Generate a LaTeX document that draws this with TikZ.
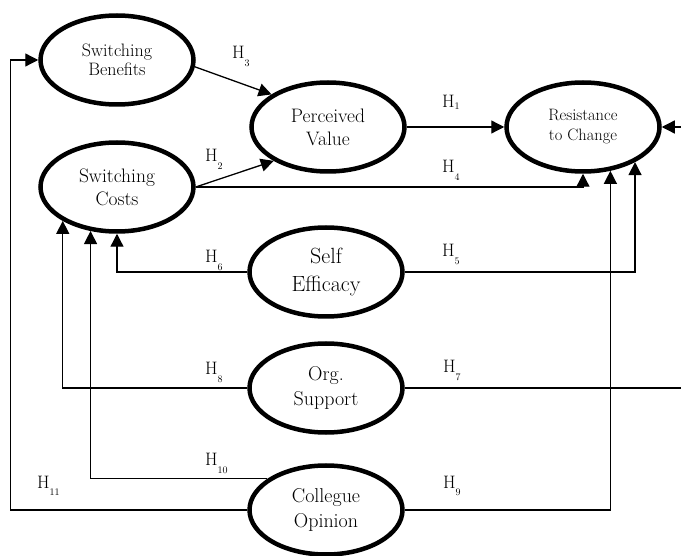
\documentclass[tikz,border=0pt]{standalone}
\usepackage{fontspec}
\setmainfont{Latin Modern Roman}
\usetikzlibrary{shapes.geometric,arrows.meta}
\newcommand\hypl[2][-8pt]{H\raisebox{#1}{\fontsize{10}{10}\selectfont #2}}
\begin{document}
\begin{tikzpicture}[x=1pt,y=-1pt,
  latent/.style={ellipse,draw,line width=4.5pt,minimum width=153pt,minimum height=89pt,inner sep=0pt,align=center},
  arr/.style={line width=1.3pt,-{Triangle[length=13pt,width=13pt]}},
  ln/.style={line width=1.3pt},
  hyp/.style={inner sep=0pt,anchor=base west,font=\fontsize{18}{18}\selectfont}]
\useasboundingbox (0,0) rectangle (681,556);

\node[latent,font=\fontsize{18}{19.5}\selectfont] (SB) at (117,60) {Switching\\Benefits};
\node[latent,font=\fontsize{19.5}{23}\selectfont] (SC) at (117,187) {Switching\\Costs};
\node[latent,font=\fontsize{19.5}{23}\selectfont] (PV) at (328,127) {Perceived\\Value};
\node[latent,font=\fontsize{16.5}{20}\selectfont] (RC) at (583,127) {Resistance\\to Change};
\node[latent,font=\fontsize{22}{28}\selectfont] (SE) at (326,272) {Self\\Efficacy};
\node[latent,font=\fontsize{20}{24.5}\selectfont] (OS) at (326,388) {Org.\\Support};
\node[latent,font=\fontsize{20}{24.5}\selectfont] (CO) at (326,510) {Collegue\\Opinion};

\coordinate (eR) at (681,127);
\coordinate (eOS) at (681,388);

% connectors
\draw[arr] (SB.-5) -- (PV.150);
\draw[arr] (SC.east) -- (PV.-148);
\draw[arr] (PV.east) -- (RC.west);
\draw[arr] (SC.east) -| (RC.south);
\draw[arr] (SE.east) -| (RC.-34);
\draw[arr] (CO.east) -| (RC.-58);
\draw[arr] (eR) -- (RC.east);
\draw[ln] (OS.east) -- (eOS);
\draw[arr] (SE.west) -| (SC.south);
\draw[arr] (OS.west) -| (SC.-148);
\draw[arr] (CO.152) -| (SC.-121.5);
\draw[arr] (CO.west) -- ++(-237,0) |- (SB.west);

% labels
\node[hyp] (h3) at (232,59) {\hypl{3}};
\node[hyp] (h2) at (205,162) {\hypl{2}};
\node[hyp] (h6) at (205,263) {\hypl{6}};
\node[hyp] (h1) at (442,108) {\hypl[-1.5pt]{1}};
\node[hyp] (h4) at (442,173) {\hypl{4}};
\node[hyp] (h5) at (442,257) {\hypl{5}};
\node[hyp] (h8) at (205,375) {\hypl{8}};
\node[hyp] (h7) at (443,373) {\hypl{7}};
\node[hyp] (h10) at (205,465) {\hypl{10}};
\node[hyp] (h11) at (37,488) {\hypl{11}};
\node[hyp] (h9) at (443,488) {\hypl{9}};
\end{tikzpicture}
\end{document}
